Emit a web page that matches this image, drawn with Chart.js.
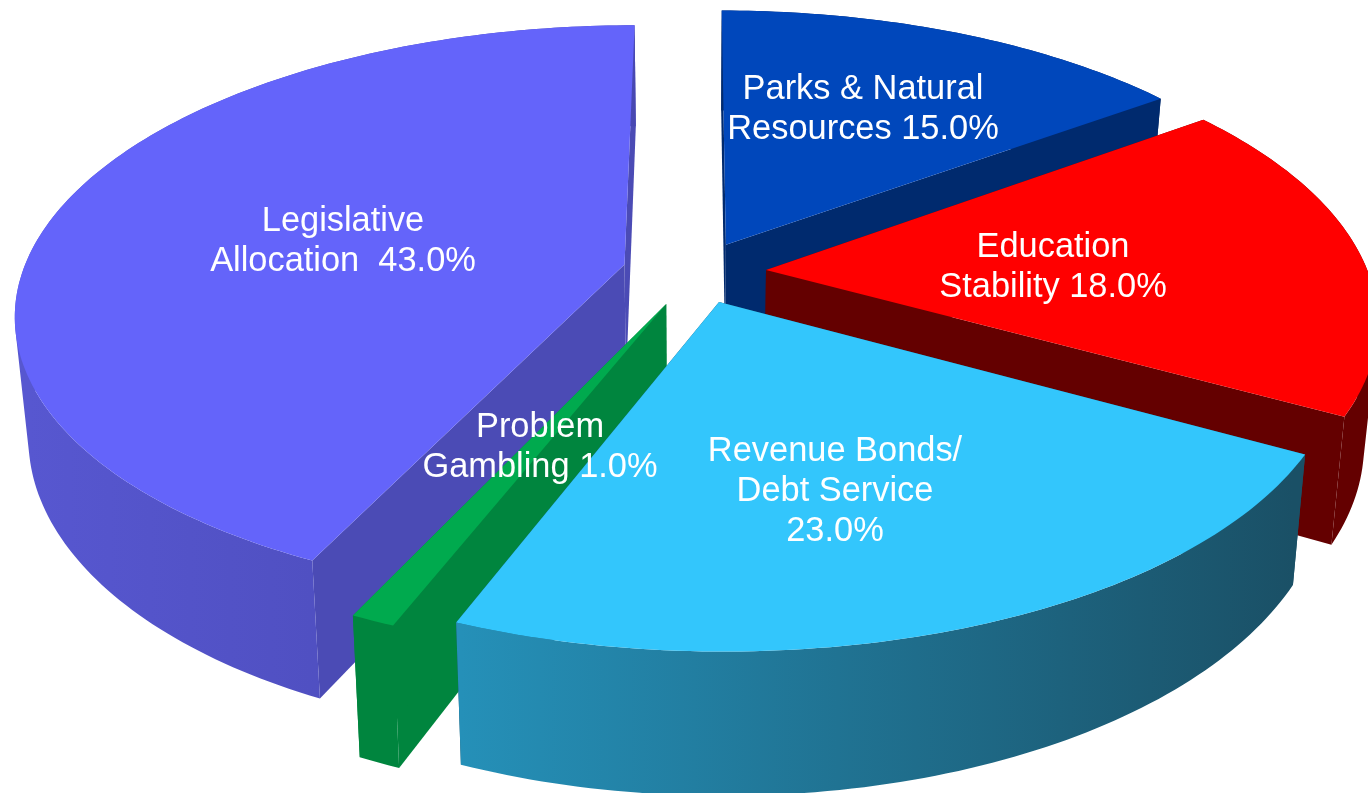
<!DOCTYPE html>
<html>
<head>
<meta charset="utf-8">
<style>html,body{margin:0;padding:0;background:#fff;overflow:hidden}#wrap{width:1368px;height:793px}</style>
<script src="https://cdn.jsdelivr.net/npm/chart.js@4/dist/chart.umd.min.js"></script>
</head>
<body>
<div id="wrap"><canvas id="c" width="1368" height="793"></canvas></div>
<script>
const categories = ["Parks & Natural Resources","Education Stability","Revenue Bonds/ Debt Service","Problem Gambling","Legislative Allocation"];
const shares = [15.0,18.0,23.0,1.0,43.0];
const labelLines = [["Parks & Natural","Resources 15.0%"],["Education","Stability 18.0%"],["Revenue Bonds/","Debt Service","23.0%"],["Problem","Gambling 1.0%"],["Legislative","Allocation  43.0%"]];
const topColors = ["#0047BB","#FF0000","#33C6FC","#00AA4E","#6464FA"];
const cutColors = ["#002A6E","#640000","#1A5066","#00853E","#4B4BB5"];
const wallLeft = ["#002A6E","#640000","#2590B8","#00853E","#5757D0"];
const wallRight = ["#002A6E","#640000","#1A5066","#00853E","#4848B2"];
const explode = [40,42,40,44,44];
const labelCenters = [[863,110],[1053,268],[835,492],[540,448],[343,242]];

const view = {cx:696,cy:272,a:602,b:281,p:0.165,d:118,taper:0.02,unit:360,step:Math.PI/180};
function project(X,Y,z){
  const w = 1/(1-view.p*Y), s = 1-view.taper*z;
  return [view.cx+view.a*X*w*s, view.cy+view.b*Y*w+view.d*z*w];
}
function addPoly(ctx,pts){
  let area=0;
  pts.forEach((q,i)=>{const r=pts[(i+1)%pts.length];area+=q[0]*r[1]-r[0]*q[1];});
  const list = area<0 ? pts.slice().reverse() : pts;
  list.forEach((q,i)=> i?ctx.lineTo(q[0],q[1]):ctx.moveTo(q[0],q[1]));
  ctx.closePath();
}
function tracePath(ctx,pts){
  ctx.beginPath();
  addPoly(ctx,pts);
}
const pie3d = {
  id:'pie3d',
  beforeDatasetDraw(chart,args){
    const ctx = chart.ctx, meta = args.meta;
    const order = meta.data.map((el,i)=>{
      const m=(el.startAngle+el.endAngle)/2;
      return {el,i,m,key:Math.sin(m)};
    }).sort((A,B)=>A.key-B.key);
    ctx.save();
    order.forEach(({el,i,m})=>{
      const e = el.options.offset/view.unit;
      const ox = Math.cos(m)*e, oy = Math.sin(m)*e;
      const n = Math.max(2,Math.ceil((el.endAngle-el.startAngle)/view.step));
      const arc = z=>{
        const r=[];
        for(let k=0;k<=n;k++){
          const t=el.startAngle+(el.endAngle-el.startAngle)*k/n;
          r.push(project(ox+Math.cos(t),oy+Math.sin(t),z));
        }
        return r;
      };
      const apex0=project(ox,oy,0), apex1=project(ox,oy,1);
      const a0=arc(0), a1=arc(1);
      ctx.fillStyle=cutColors[i];
      [[apex0,a0[0],a1[0],apex1],[apex0,a0[n],a1[n],apex1]].forEach(q=>{tracePath(ctx,q);ctx.fill();});
      const xs=a1.map(q=>q[0]);
      const g=ctx.createLinearGradient(Math.min(...xs),0,Math.max(...xs),0);
      g.addColorStop(0,wallLeft[i]); g.addColorStop(1,wallRight[i]);
      ctx.fillStyle=g;
      ctx.beginPath();
      for(let k=0;k<n;k++) addPoly(ctx,[a0[k],a0[k+1],a1[k+1],a1[k]]);
      ctx.fill();
      ctx.fillStyle=topColors[i];
      tracePath(ctx,[apex0].concat(a0));ctx.fill();
    });
    ctx.restore();
    return false;
  },
  afterDatasetsDraw(chart){
    const ctx=chart.ctx;
    ctx.save();
    ctx.fillStyle="#fff";
    ctx.font='34.4px "Liberation Sans", Arial, sans-serif';
    ctx.textAlign="center";ctx.textBaseline="middle";
    labelLines.forEach((lines,i)=>{
      const [x,y]=labelCenters[i];
      lines.forEach((t,j)=>ctx.fillText(t,x,y+(j-(lines.length-1)/2)*40));
    });
    ctx.restore();
  }
};
new Chart(document.getElementById('c'),{
  type:'pie',
  data:{labels:categories,datasets:[{data:shares,backgroundColor:topColors,borderWidth:0,offset:explode}]},
  options:{responsive:false,animation:false,rotation:0,layout:{padding:0},
    plugins:{legend:{display:false},tooltip:{enabled:false},title:{display:false}}},
  plugins:[pie3d]
});
</script>
</body>
</html>
